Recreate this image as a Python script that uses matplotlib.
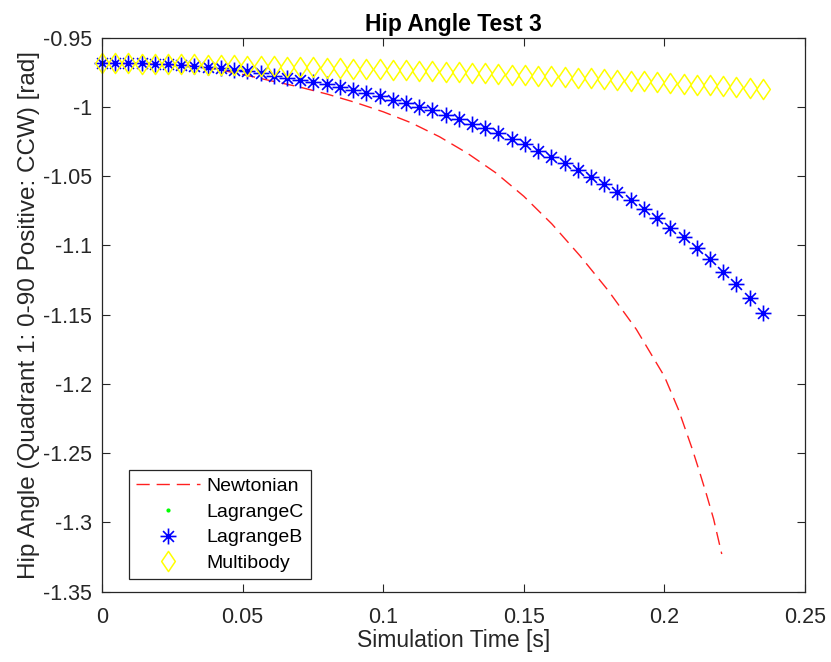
import numpy as np
import matplotlib
matplotlib.use("Agg")
import matplotlib.pyplot as plt
from matplotlib.path import Path
from matplotlib.ticker import FormatStrFormatter

plt.rcParams['font.family'] = ['Liberation Sans', 'DejaVu Sans']
plt.rcParams['axes.unicode_minus'] = False

# sample times of the lagrange / multibody runs (51 samples up to 0.235 s)
t_sim = np.linspace(0, 0.235, 51)

lagrange_b = [-0.9685, -0.9685, -0.9685, -0.9686, -0.9689, -0.9691, -0.9697, -0.9702,
              -0.9709, -0.9720, -0.9731, -0.9740, -0.9757, -0.9775, -0.9789, -0.9805,
              -0.9822, -0.9838, -0.9858, -0.9879, -0.9897, -0.9920, -0.9948, -0.9969,
              -0.9997, -1.0024, -1.0058, -1.0089, -1.0120, -1.0154, -1.0190, -1.0229,
              -1.0270, -1.0315, -1.0359, -1.0407, -1.0455, -1.0504, -1.0556, -1.0612,
              -1.0672, -1.0734, -1.0800, -1.0872, -1.0940, -1.1022, -1.1100, -1.1192,
              -1.1280, -1.1382, -1.1490]
lagrange_c = lagrange_b

multibody = [-0.9685, -0.9686, -0.9686, -0.9687, -0.9688, -0.9690, -0.9691, -0.9693,
             -0.9695, -0.9697, -0.9700, -0.9702, -0.9704, -0.9707, -0.9709, -0.9712,
             -0.9715, -0.9718, -0.9720, -0.9723, -0.9726, -0.9729, -0.9733, -0.9736,
             -0.9739, -0.9743, -0.9747, -0.9751, -0.9754, -0.9758, -0.9762, -0.9766,
             -0.9770, -0.9775, -0.9779, -0.9784, -0.9789, -0.9794, -0.9799, -0.9804,
             -0.9810, -0.9815, -0.9821, -0.9827, -0.9833, -0.9839, -0.9845, -0.9852,
             -0.9859, -0.9866, -0.9873]

# newtonian run (finer time step, stops at 0.2204 s)
t_newton = [0.0, 0.01, 0.02, 0.03, 0.04, 0.05, 0.06, 0.07, 0.08, 0.09, 0.10, 0.11,
            0.12, 0.13, 0.14, 0.15, 0.16, 0.17, 0.18, 0.19, 0.20, 0.205, 0.21,
            0.2125, 0.215, 0.2175, 0.2204]
newtonian = [-0.9685, -0.9687, -0.9692, -0.9700, -0.9725, -0.9765, -0.9811, -0.9855,
             -0.9907, -0.9967, -1.0035, -1.0115, -1.0215, -1.0335, -1.0475, -1.0645,
             -1.0845, -1.1075, -1.1325, -1.1605, -1.1945, -1.2185, -1.2475, -1.2635,
             -1.2800, -1.2975, -1.3228]

# matlab-like asterisk: "+" with a shorter "x" on top
a = 0.68
asterisk = Path([(-1, 0), (1, 0), (0, -1), (0, 1), (-a, -a), (a, a), (-a, a), (a, -a)],
                [Path.MOVETO, Path.LINETO] * 4)
diamond = Path([(0, 1), (0.68, 0), (0, -1), (-0.68, 0), (0, 1)],
               [Path.MOVETO, Path.LINETO, Path.LINETO, Path.LINETO, Path.CLOSEPOLY])

fig = plt.figure(figsize=(8.31, 6.62), dpi=100)
ax = fig.add_axes([0.1227, 0.1062, 0.8460, 0.8369])

ax.plot(t_newton, newtonian, '--', color='#ff2020', lw=1.0, dashes=(9.5, 5),
        label='Newtonian')
ax.plot(t_sim, lagrange_c, '.', color='#00ff00', ms=4, ls='none', clip_on=False,
        label='LagrangeC')
ax.plot(t_sim, lagrange_b, ls='none', marker=asterisk, ms=11.5, mew=1.2,
        color='#0000ff', clip_on=False, label='LagrangeB')
ax.plot(t_sim, multibody, ls='none', marker=diamond, ms=14.5, mew=1.1,
        mfc='none', mec='#ffff00', clip_on=False, label='Multibody')

ax.set_xlim(0, 0.25)
ax.set_ylim(-1.35, -0.95)
ax.set_xticks(np.arange(0, 0.2501, 0.05))
ax.set_yticks(np.arange(-1.35, -0.9499, 0.05))
ax.xaxis.set_major_formatter(FormatStrFormatter('%g'))
ax.yaxis.set_major_formatter(FormatStrFormatter('%g'))
ax.tick_params(direction='in', length=6, width=0.8, top=True, right=True,
               colors='#262626', labelsize=15.5)
ax.tick_params(axis='x', pad=11)
ax.tick_params(axis='y', pad=7)
for s in ax.spines.values():
    s.set_color('#262626')
    s.set_linewidth(0.9)

ax.set_title('Hip Angle Test 3', fontsize=16.5, fontweight='bold', pad=5)
ax.set_xlabel('Simulation Time [s]', fontsize=16.5, color='#262626', labelpad=1)
ax.set_ylabel('Hip Angle (Quadrant 1: 0-90 Positive: CCW) [rad]', fontsize=17.5,
              color='#262626', labelpad=2)

leg = ax.legend(loc='lower left', bbox_to_anchor=(0.0384, 0.0229), borderaxespad=0,
                fontsize=14, fancybox=False, framealpha=1, edgecolor='#262626',
                handlelength=3.3, handletextpad=0.35, borderpad=0.35,
                labelspacing=0.42)
leg.get_frame().set_linewidth(0.9)

fig.savefig('out.png', dpi=100)
